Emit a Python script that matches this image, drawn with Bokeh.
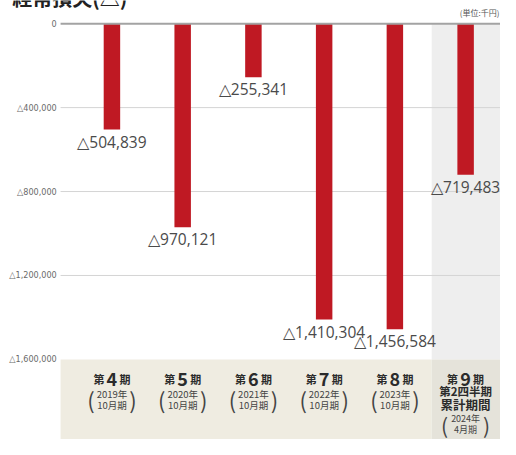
from bokeh.plotting import figure
from bokeh.models import Range1d
from bokeh.core.properties import value
from bokeh.embed import file_html
from bokeh.resources import INLINE

# ---- data ----
periods = ["4", "5", "6", "7", "8", "9"]
years = ["2019年", "2020年", "2021年", "2022年", "2023年", "2024年"]
months = ["10月期", "10月期", "10月期", "10月期", "10月期", "4月期"]
losses = [504839, 970121, 255341, 1410304, 1456584, 719483]
tick_values = [0, -400000, -800000, -1200000, -1600000]
tick_labels = ["0", "△400,000", "△800,000", "△1,200,000", "△1,600,000"]
value_labels = ["△504,839", "△970,121", "△255,341", "△1,410,304", "△1,456,584", "△719,483"]
title_text = "経常損失(△)"
unit_text = "(単位:千円)"

# ---- layout helpers (reference 516x455 squeezed into 500x439) ----
W, H = 500, 439
SX, SY = W / 516.0, H / 455.0
ZERO = 24 * SY                    # canvas px of the zero line
PX = 400000 / (87 * SY)           # data units per canvas pixel
C0, STEP = 115 * SX, 73 * SX      # first bar centre, spacing (canvas px)


def X(rx):
    """reference pixel column -> data x"""
    return (rx * SX - C0) / STEP


def Y(ry):
    """reference pixel row -> data y"""
    return -(ry * SY - ZERO) * PX


X0, X1 = X(0), X(516)
XL = X(62)          # left edge of the plotting area
BAND9 = X(445)

p = figure(width=W, height=H, output_backend="svg", toolbar_location=None,
           x_range=Range1d(X0, X1),
           y_range=Range1d(-(H - ZERO) * PX, ZERO * PX),
           min_border_left=0, min_border_right=0, min_border_top=0,
           min_border_bottom=0)
p.outline_line_color = None
p.background_fill_color = "white"
p.border_fill_color = "white"
p.xaxis.visible = False
p.yaxis.visible = False
p.xgrid.visible = False
p.ygrid.visible = False

x = list(range(len(periods)))
ybottom = -(H - ZERO) * PX

# background bands
p.quad(left=[BAND9], right=[X1 + 1], top=[0], bottom=[tick_values[-1]],
       fill_color="#eeeeee", line_color=None)
p.quad(left=[XL], right=[BAND9], top=[tick_values[-1]], bottom=[ybottom],
       fill_color="#efece1", line_color=None)
p.quad(left=[BAND9], right=[X1 + 1], top=[tick_values[-1]], bottom=[ybottom],
       fill_color="#e5e3da", line_color=None)

# grid lines
grid_vals = tick_values[1:-1]
p.segment(x0=[XL] * len(grid_vals), x1=[X1 + 1] * len(grid_vals),
          y0=grid_vals, y1=grid_vals, line_color="#d4d4d4", line_width=1)

# tick labels
p.text(x=[X(58)] * len(tick_values), y=tick_values, text=tick_labels,
       text_align="right", text_baseline="middle",
       text_font=value("DejaVu Sans Condensed"), text_font_size="9px",
       text_color="#6a6a6a")

# bars
p.vbar(x=x, top=0, bottom=[-v for v in losses], width=17 / 73.0,
       fill_color="#bf1923", line_color=None)

# zero line
p.segment(x0=[XL], x1=[X1 + 1], y0=[0], y1=[0], line_color="#a3a3a3",
          line_width=2)

# value labels
p.text(x=x, y=[-v - 12 * PX for v in losses], text=value_labels,
       text_align="center", text_baseline="alphabetic",
       text_font=value("Open Sans"), text_font_size="15.5px",
       text_color="#4a4a4a")

# category labels
dark = "#2b2b2b"
mid = "#444444"
cjk = value("Noto Sans CJK JP")
HEAD = Y(392)
p.text(x=x, y=HEAD, text=["第"] * 6, x_offset=-13, text_align="center",
       text_baseline="alphabetic", text_font=cjk, text_font_size="11px",
       text_font_style="bold", text_color=dark)
p.text(x=x, y=HEAD, text=periods, text_align="center",
       text_baseline="alphabetic", text_font=cjk, text_font_size="18px",
       text_font_style="bold", text_color=dark)
p.text(x=x, y=HEAD, text=["期"] * 6, x_offset=13, text_align="center",
       text_baseline="alphabetic", text_font=cjk, text_font_size="11px",
       text_font_style="bold", text_color=dark)

# year / month lines (first five)
xs5 = x[:5]
p.text(x=xs5, y=Y(407.5), text=years[:5], text_align="center",
       text_baseline="middle", text_font=cjk, text_font_size="9.5px",
       text_color=mid)
p.text(x=xs5, y=Y(419), text=months[:5], text_align="center",
       text_baseline="middle", text_font=cjk, text_font_size="9.5px",
       text_color=mid)
p.text(x=xs5, y=Y(413.5), text=["("] * 5, x_offset=-21, text_align="center",
       text_baseline="middle", text_font=cjk, text_font_size="22px",
       text_color=mid)
p.text(x=xs5, y=Y(413.5), text=[")"] * 5, x_offset=21, text_align="center",
       text_baseline="middle", text_font=cjk, text_font_size="22px",
       text_color=mid)

# ninth column extra lines
p.text(x=[x[5]], y=Y(404.5), text=["第2四半期"], text_align="center",
       text_baseline="middle", text_font=cjk, text_font_size="11.5px",
       text_font_style="bold", text_color=dark)
p.text(x=[x[5]], y=Y(419), text=["累計期間"], text_align="center",
       text_baseline="middle", text_font=cjk, text_font_size="12.5px",
       text_font_style="bold", text_color=dark)
p.text(x=[x[5]], y=Y(433.5), text=[years[5]], text_align="center",
       text_baseline="middle", text_font=cjk, text_font_size="9px",
       text_color=mid)
p.text(x=[x[5]], y=Y(444.5), text=[months[5]], text_align="center",
       text_baseline="middle", text_font=cjk, text_font_size="9px",
       text_color=mid)
p.text(x=[x[5]], y=Y(439.5), text=["("], x_offset=-21, text_align="center",
       text_baseline="middle", text_font=cjk, text_font_size="21px",
       text_color=mid)
p.text(x=[x[5]], y=Y(439.5), text=[")"], x_offset=21, text_align="center",
       text_baseline="middle", text_font=cjk, text_font_size="21px",
       text_color=mid)

# unit text
p.text(x=[X1], y=Y(12.5), text=[unit_text], x_offset=-1, text_align="right",
       text_baseline="middle", text_font=cjk, text_font_size="8px",
       text_color="#555555")

# title (cut off at the top, as in the reference)
p.text(x=[X(12)], y=[Y(-3)], text=[title_text], text_align="left",
       text_baseline="alphabetic", text_font=cjk, text_font_size="20px",
       text_font_style="bold", text_color="#222222")

open("out.html", "w").write(file_html(p, INLINE))
